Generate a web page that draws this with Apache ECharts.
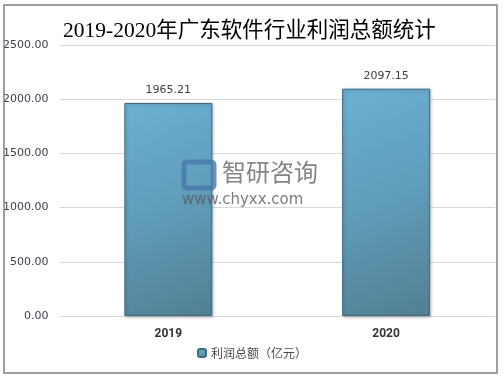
<!DOCTYPE html>
<html><head><meta charset="utf-8">
<script src="https://cdn.jsdelivr.net/npm/echarts@6/dist/echarts.min.js"></script>
<style>html,body{margin:0;padding:0;background:#fff}#c{width:504px;height:377px}</style>
</head><body><div id="c"></div>
<script>
const categories = ['2019', '2020'];
const profitValues = [1965.21, 2097.15];
const seriesName = '利润总额（亿元）';
const titleText = '2019-2020年广东软件行业利润总额统计';

const chart = echarts.init(document.getElementById('c'), null, {renderer: 'canvas'});
chart.setOption({
  backgroundColor: '#fff',
  animation: false,
  title: {
    text: titleText, left: 58, top: 16,
    textStyle: {fontFamily: '"Liberation Serif","Noto Sans CJK SC",serif', fontSize: 21.5, fontWeight: 'normal', color: '#000'}
  },
  grid: {left: 57, right: 9, top: 45, bottom: 61},
  legend: {
    data: [seriesName], bottom: 13, left: 'center', itemWidth: 8, itemHeight: 8, itemGap: 4,
    textStyle: {fontFamily: '"Noto Sans CJK SC",sans-serif', fontSize: 12, color: '#4a4a4a'}
  },
  graphic: [
    {type: 'rect', shape: {x: 4, y: 5, width: 493, height: 368}, style: {fill: 'none', stroke: '#808080', lineWidth: 1.5}, silent: true, z: 100},
    {type: 'text', left: 222, top: 160, style: {text: '智研咨询', font: '24px "Noto Sans CJK SC"', fill: 'rgba(110,110,110,0.85)'}, z: 100},
    {type: 'text', left: 182, top: 193, style: {text: 'www.chyxx.com', font: '15px "DejaVu Sans"', fill: 'rgba(90,90,90,0.8)', letterSpacing: 2}, z: 100},
    {type: 'rect', shape: {x: 184, y: 162, width: 30, height: 26, r: 3}, style: {fill: 'none', stroke: 'rgba(70,120,170,0.8)', lineWidth: 5}, z: 100}
  ],
  xAxis: {
    type: 'category', data: categories,
    axisLine: {show: true, lineStyle: {color: '#d9d9d9'}},
    axisTick: {show: false},
    axisLabel: {fontFamily: 'Roboto,"DejaVu Sans",sans-serif', fontWeight: 'bold', fontSize: 12, color: '#333', margin: 12}
  },
  yAxis: {
    type: 'value', min: 0, max: 2500, interval: 500,
    axisLine: {show: false}, axisTick: {show: false},
    splitLine: {lineStyle: {color: '#d9d9d9'}},
    axisLabel: {formatter: v => v.toFixed(2), fontFamily: '"DejaVu Sans",sans-serif', fontSize: 11, color: '#3b4252', margin: 11}
  },
  series: [{
    name: seriesName, type: 'bar', data: profitValues, barWidth: 88,
    itemStyle: {
      color: new echarts.graphic.LinearGradient(0, 0, 1, 1, [
        {offset: 0, color: '#6cb0d2'}, {offset: 0.5, color: '#5f9cb9'}, {offset: 1, color: '#527f92'}
      ]),
      borderColor: '#3e6d82', borderWidth: 1,
      shadowColor: 'rgba(0,0,0,0.25)', shadowBlur: 3, shadowOffsetX: 1, shadowOffsetY: 1
    },
    label: {show: true, position: 'top', distance: 7, formatter: p => p.value.toFixed(2),
      fontFamily: '"DejaVu Sans",sans-serif', fontSize: 11, color: '#404040'}
  }]
});
</script></body></html>
